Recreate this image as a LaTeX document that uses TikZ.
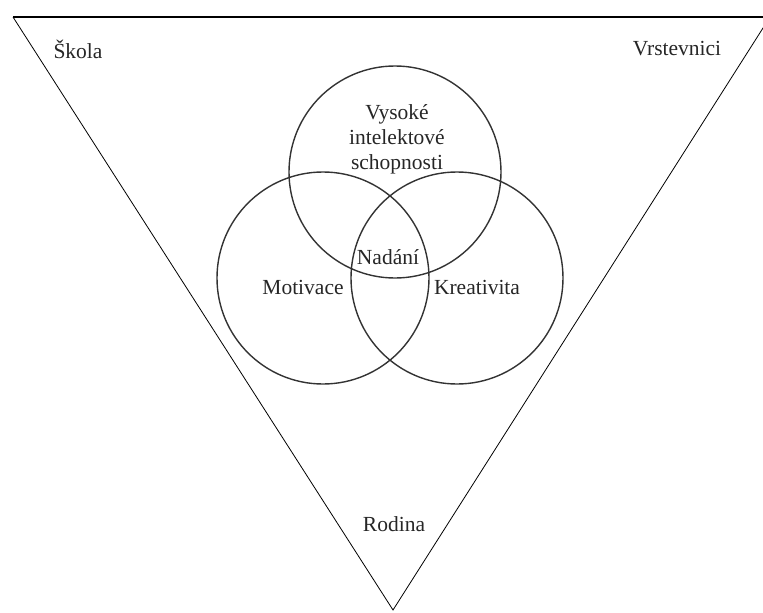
\documentclass[tikz,border=0pt]{standalone}
\usepackage{fontspec}
\setmainfont{Liberation Serif}
\usetikzlibrary{positioning}

\tikzset{
  kruh/.style={draw=black!80, line width=1.4pt, circle, minimum size=212pt, inner sep=0pt},
  popis/.style={font=\fontsize{21.5}{25}\selectfont, text=black!85, inner sep=0pt, align=center},
}

\begin{document}
\begin{tikzpicture}[x=1pt, y=-1pt]%
  \useasboundingbox (0,0) rectangle (763,613);
  \clip (0,0) rectangle (763,613);
  % trojuhelnik prostredi
  \coordinate (levy) at (13,17);
  \coordinate (pravy) at (770,17);
  \coordinate (spodni) at (393,610);
  \draw[black, line width=1.6pt]
    (levy)
    --
    (pravy)
    ;
  \draw[black, line width=0.8pt]
    (pravy)
    --
    (spodni)
    --
    (levy)
    ;
  % tri kruhy
  \node[kruh] (schopnosti) at (395,172) {};
  \node[kruh] (motivace) at (323,278) {};
  \node[kruh] (kreativita) at (457,278) {};
  % popisky
  \node[popis] (vysoke) at (397,139) {Vysoké\\intelektové\\schopnosti};
  \node[popis] (nadani) at (388,257) {Nadání};
  \node[popis] (motiv) at (303,287) {Motivace};
  \node[popis] (kreat) at (477,287) {Kreativita};
  \node[popis] (skola) at (78,49) {Škola};
  \node[popis] (vrstevnici) at (677,49) {Vrstevnici};
  \node[popis] (rodina) at (394,524) {Rodina};
\end{tikzpicture}
\end{document}
